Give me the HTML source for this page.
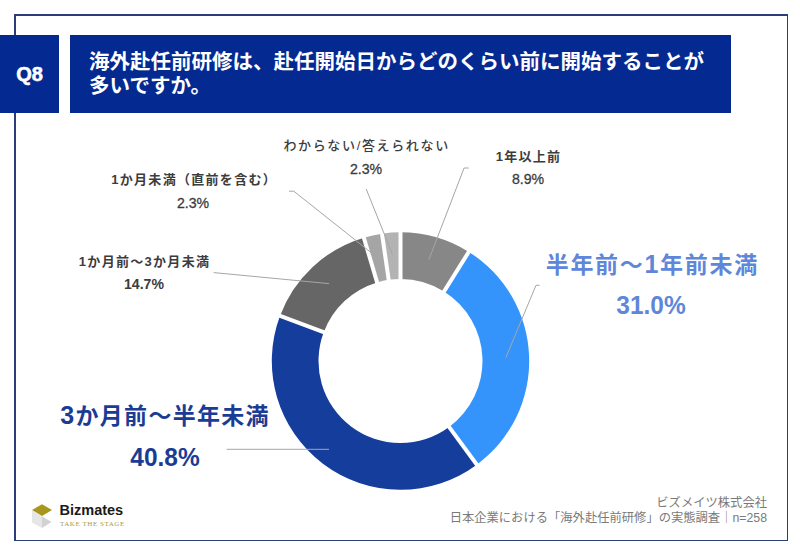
<!DOCTYPE html>
<html lang="ja"><head><meta charset="utf-8">
<style>
*{margin:0;padding:0;box-sizing:border-box}
html,body{width:800px;height:554px;background:#fff;overflow:hidden}
body{position:relative;font-family:"Liberation Sans","Noto Sans CJK JP",sans-serif}
.frame{position:absolute;left:14px;top:14px;width:774px;height:527px;border:solid #2c3d7a;border-width:2px 1px 1px 2px}
.q{position:absolute;left:0;top:35px;width:59px;height:78px;background:#042a92;color:#fff;font-weight:bold;font-size:20px;line-height:78px;text-align:center;-webkit-text-stroke:0.6px #fff}
.title{position:absolute;left:69.5px;top:35px;width:661px;height:78px;background:#042a92;color:#fff;font-weight:bold;font-size:20.5px;line-height:24.5px;padding:14.75px 0 0 19.5px}
.chart{position:absolute;left:0;top:0}
.lb{position:absolute;white-space:nowrap;line-height:1.5;transform:translateX(-50%)}
.foot{position:absolute;right:33px;top:495.5px;text-align:right;color:#7a7a7a;font-size:12.3px;line-height:15px;white-space:nowrap}
.logo{position:absolute;left:31px;top:504px}
.bz{position:absolute;left:59.5px;top:502.3px;font-weight:bold;font-size:14.5px;color:#1a1a1a}
.tag{position:absolute;left:60px;top:519.6px;font-size:7px;letter-spacing:0.55px;color:#a39a4a;font-family:"Liberation Serif",serif}
</style></head><body>
<div class="frame"></div>
<div class="q">Q8</div>
<div class="title">海外赴任前研修は、赴任開始日からどのくらい前に開始することが<br>多いですか。</div>
<svg class="chart" width="800" height="554" viewBox="0 0 800 554">
<g><path fill="#878787" d="M400.50,232.30 A128.7,128.7 0 0 1 468.78,251.90 L444.00,291.49 A82,82 0 0 0 400.50,279.00 Z"/><path fill="#3494fc" d="M468.78,251.90 A128.7,128.7 0 0 1 476.80,464.64 L449.11,427.04 A82,82 0 0 0 444.00,291.49 Z"/><path fill="#153d9c" d="M476.80,464.64 A128.7,128.7 0 0 1 279.97,315.89 L323.70,332.26 A82,82 0 0 0 449.11,427.04 Z"/><path fill="#666666" d="M279.97,315.89 A128.7,128.7 0 0 1 363.82,237.64 L377.13,282.40 A82,82 0 0 0 323.70,332.26 Z"/><path fill="#a5a5a5" d="M363.82,237.64 A128.7,128.7 0 0 1 381.97,233.64 L388.69,279.85 A82,82 0 0 0 377.13,282.40 Z"/><path fill="#b3b3b3" d="M381.97,233.64 A128.7,128.7 0 0 1 400.50,232.30 L400.50,279.00 A82,82 0 0 0 388.69,279.85 Z"/></g>
<g stroke="#fff" stroke-width="4.0"><line x1="400.50" y1="281.00" x2="400.50" y2="230.30"/><line x1="442.94" y1="293.19" x2="469.84" y2="250.21"/><line x1="447.93" y1="425.42" x2="477.99" y2="466.25"/><line x1="325.58" y1="332.96" x2="278.09" y2="315.19"/><line x1="377.70" y1="284.32" x2="363.25" y2="235.72"/><line x1="388.98" y1="281.83" x2="381.68" y2="231.66"/></g>
<g fill="none" stroke="#a6a6a6" stroke-width="1"><path d="M366.2,189 L392.5,254.5"/><path d="M289,191.2 L293.8,191.2 L371,252.5"/><path d="M213.7,272.6 L329,283.6"/><path d="M468.7,168 L464.1,168 L429,259.3"/><path d="M539.6,285.3 L536,285.3 L505.9,357.5"/><path d="M226.6,449.3 L329,449.3"/></g>
</svg>
<svg class="logo" width="22" height="26" viewBox="0 0 22 26">
<polygon points="1,6 11,0.3 21,6 11,12" fill="#a8961e"/>
<polygon points="1,6.5 11,12.3 11,24 1,18.5" fill="#e6e6e6"/>
<polygon points="11,12.3 20.5,18 11,24" fill="#d2d2d2"/>
</svg>
<div class="bz">Bizmates</div>
<div class="tag">TAKE THE STAGE</div>
<div class="foot">ビズメイツ株式会社<br>日本企業における「海外赴任前研修」の実態調査｜n=258</div>
<div class="lb" style="left:366.60px;top:136.18px;font-size:13px;font-weight:500;letter-spacing:1.65px;color:#3c3c3c">わからない/答えられない</div>
<div class="lb" style="left:365.90px;top:158.40px;font-size:15px;font-weight:400;color:#3c3c3c;-webkit-text-stroke:0.3px #3c3c3c;transform:translateX(-50%) scaleX(0.94)">2.3%</div>
<div class="lb" style="left:194.15px;top:169.90px;font-size:13px;font-weight:700;letter-spacing:1.3px;color:#3c3c3c">1か月未満（直前を含む）</div>
<div class="lb" style="left:192.70px;top:191.70px;font-size:15px;font-weight:400;color:#3c3c3c;-webkit-text-stroke:0.3px #3c3c3c;transform:translateX(-50%) scaleX(0.94)">2.3%</div>
<div class="lb" style="left:144.55px;top:251.60px;font-size:13px;font-weight:700;letter-spacing:1.3px;color:#3c3c3c">1か月前～3か月未満</div>
<div class="lb" style="left:143.50px;top:273.00px;font-size:15px;font-weight:700;color:#3c3c3c;transform:translateX(-50%) scaleX(0.94)">14.7%</div>
<div class="lb" style="left:528.50px;top:146.50px;font-size:13px;font-weight:700;letter-spacing:1.3px;color:#3c3c3c">1年以上前</div>
<div class="lb" style="left:527.55px;top:168.40px;font-size:15px;font-weight:400;color:#3c3c3c;-webkit-text-stroke:0.3px #3c3c3c;transform:translateX(-50%) scaleX(0.94)">8.9%</div>
<div class="lb" style="left:652.30px;top:246.25px;font-size:23px;font-weight:700;letter-spacing:1.7px;color:#5e86d9">半年前～<span style="font-size:25px">1</span>年前未満</div>
<div class="lb" style="left:650.65px;top:286.10px;font-size:26px;font-weight:700;color:#5e86d9;transform:translateX(-50%) scaleX(0.94)">31.0%</div>
<div class="lb" style="left:165.10px;top:397.40px;font-size:23px;font-weight:700;letter-spacing:1.3px;color:#1b3c95"><span style="font-size:25px">3</span>か月前～半年未満</div>
<div class="lb" style="left:165.30px;top:437.60px;font-size:26px;font-weight:700;color:#1b3c95;transform:translateX(-50%) scaleX(0.94)">40.8%</div>
</body></html>
